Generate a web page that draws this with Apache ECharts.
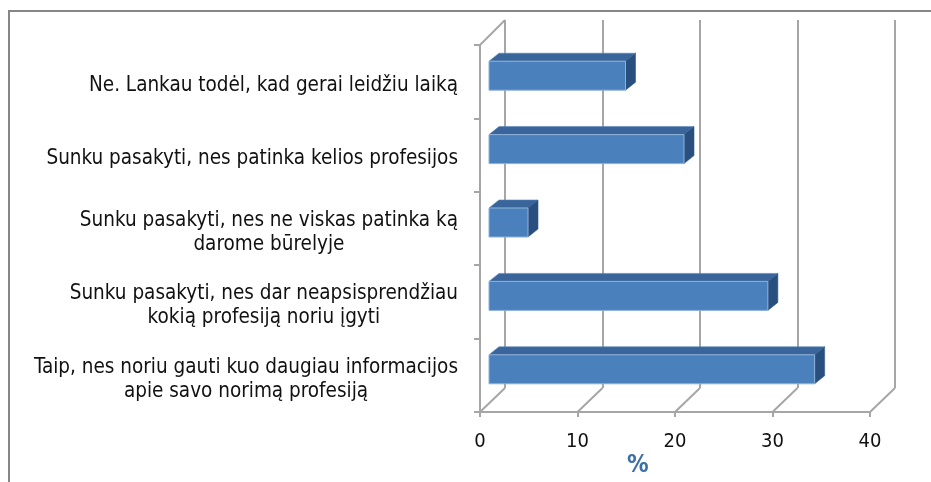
<!DOCTYPE html>
<html>
<head>
<meta charset="utf-8">
<script src="https://cdn.jsdelivr.net/npm/echarts@6/dist/echarts.min.js"></script>
<style>html,body{margin:0;padding:0;background:#fff;}#c{width:931px;height:482px;}</style>
</head>
<body>
<div id="c"></div>
<script>
const categories = [
  'Ne. Lankau todėl, kad gerai leidžiu laiką',
  'Sunku pasakyti, nes patinka kelios profesijos',
  'Sunku pasakyti, nes ne viskas patinka ką\ndarome būrelyje',
  'Sunku pasakyti, nes dar neapsisprendžiau\nkokią profesiją noriu įgyti',
  'Taip, nes noriu gauti kuo daugiau informacijos\napie savo norimą profesiją'
];
const values = [14, 20, 4, 28.6, 33.4];
const xTicks = [0, 10, 20, 30, 40];
const axisName = '%';

const FONT = "'Liberation Sans Narrow', 'DejaVu Sans Condensed', 'Open Sans', sans-serif";
const GRID_C = '#a6a6a6';
const WALL_DX = 25, WALL_DY = -24;

const chart = echarts.init(document.getElementById('c'), null, {renderer: 'canvas'});

const option = {
  animation: false,
  backgroundColor: '#fff',
  title: {
    text: axisName, left: 622, top: 449,
    textStyle: {fontFamily: FONT, fontSize: 24, fontWeight: 'bold', color: '#3d6fa8'}
  },
  graphic: [{
    type: 'rect', shape: {x: 9, y: 11, width: 1000, height: 1000},
    style: {fill: 'none', stroke: '#868686', lineWidth: 2}, silent: true
  }],
  grid: [
    {left: 480, top: 45, width: 390, height: 367},
    {left: 505, top: 20, width: 390, height: 368}
  ],
  xAxis: [
    {
      gridIndex: 0, type: 'value', min: 0, max: 40, interval: 10,
      axisLine: {show: true, lineStyle: {color: GRID_C, width: 2}},
      axisTick: {show: true, length: 5, lineStyle: {color: GRID_C, width: 2}},
      axisLabel: {show: true, margin: 20, fontFamily: FONT, fontSize: 20, color: '#111',
        formatter: v => xTicks.indexOf(v) >= 0 ? String(v) : ''},
      splitLine: {show: false}
    },
    {
      gridIndex: 1, type: 'value', min: 0, max: 40, interval: 10,
      axisLine: {show: false}, axisTick: {show: false}, axisLabel: {show: false},
      splitLine: {show: true, lineStyle: {color: GRID_C, width: 2}}
    }
  ],
  yAxis: [
    {
      gridIndex: 0, type: 'category', data: categories, inverse: true,
      axisLine: {show: true, lineStyle: {color: GRID_C, width: 2}},
      axisTick: {show: true, length: 6, lineStyle: {color: GRID_C, width: 2}},
      axisLabel: {
        show: true, margin: 22, color: '#111', padding: [8, 0, 0, 0],
        formatter: v => v.split('\n').map(s => '{c|' + s + '}').join('\n'),
        rich: {c: {align: 'center', fontFamily: FONT, fontSize: 20.5, lineHeight: 24, color: '#111'}}
      },
      splitLine: {show: false}
    },
    {
      gridIndex: 1, type: 'value', min: 0, max: 1,
      axisLine: {show: false}, axisTick: {show: false}, axisLabel: {show: false},
      splitLine: {show: false}
    }
  ],
  series: [
    {
      type: 'custom', xAxisIndex: 0, yAxisIndex: 0, silent: true, z: 1,
      data: xTicks.map(v => [v, 0]),
      renderItem: function (params, api) {
        const cs = params.coordSys;
        const p = api.coord([api.value(0), 0]);
        const by = cs.y + cs.height;
        const children = [{
          type: 'line',
          shape: {x1: p[0], y1: by, x2: p[0] + WALL_DX, y2: by + WALL_DY},
          style: {stroke: GRID_C, lineWidth: 2}
        }];
        if (params.dataIndex === 0) {
          children.push({
            type: 'line',
            shape: {x1: cs.x, y1: cs.y, x2: cs.x + WALL_DX, y2: cs.y + WALL_DY - 1},
            style: {stroke: GRID_C, lineWidth: 2}
          });
        }
        return {type: 'group', children: children};
      }
    },
    {
      type: 'custom', xAxisIndex: 0, yAxisIndex: 0, silent: true, z: 5,
      data: values.map((v, i) => [v, i]),
      renderItem: function (params, api) {
        const idx = api.value(1);
        const e = api.coord([api.value(0), idx]);
        const s = api.coord([0, idx]);
        const band = api.size([0, 1])[1];
        const h = band * 0.395;
        const ox = 9, oy = -6;
        const dx = 10, dy = -8;
        const L = s[0] + ox, R = e[0] + ox;
        const T = e[1] + oy - h / 2, B = e[1] + oy + h / 2;
        return {
          type: 'group',
          children: [
            {type: 'polygon', shape: {points: [[L, T], [R, T], [R + dx, T + dy], [L + dx, T + dy]]},
              style: {fill: '#3a659a', stroke: '#5583bb', lineWidth: 0.6}},
            {type: 'polygon', shape: {points: [[R, T], [R + dx, T + dy], [R + dx, B + dy], [R, B]]},
              style: {fill: '#284f7e', stroke: '#2f5a8c', lineWidth: 0.6}},
            {type: 'rect', shape: {x: L, y: T, width: R - L, height: B - T},
              style: {fill: '#4a80bc', stroke: '#8fb0d8', lineWidth: 1}}
          ]
        };
      }
    }
  ]
};
chart.setOption(option);
</script>
</body>
</html>
